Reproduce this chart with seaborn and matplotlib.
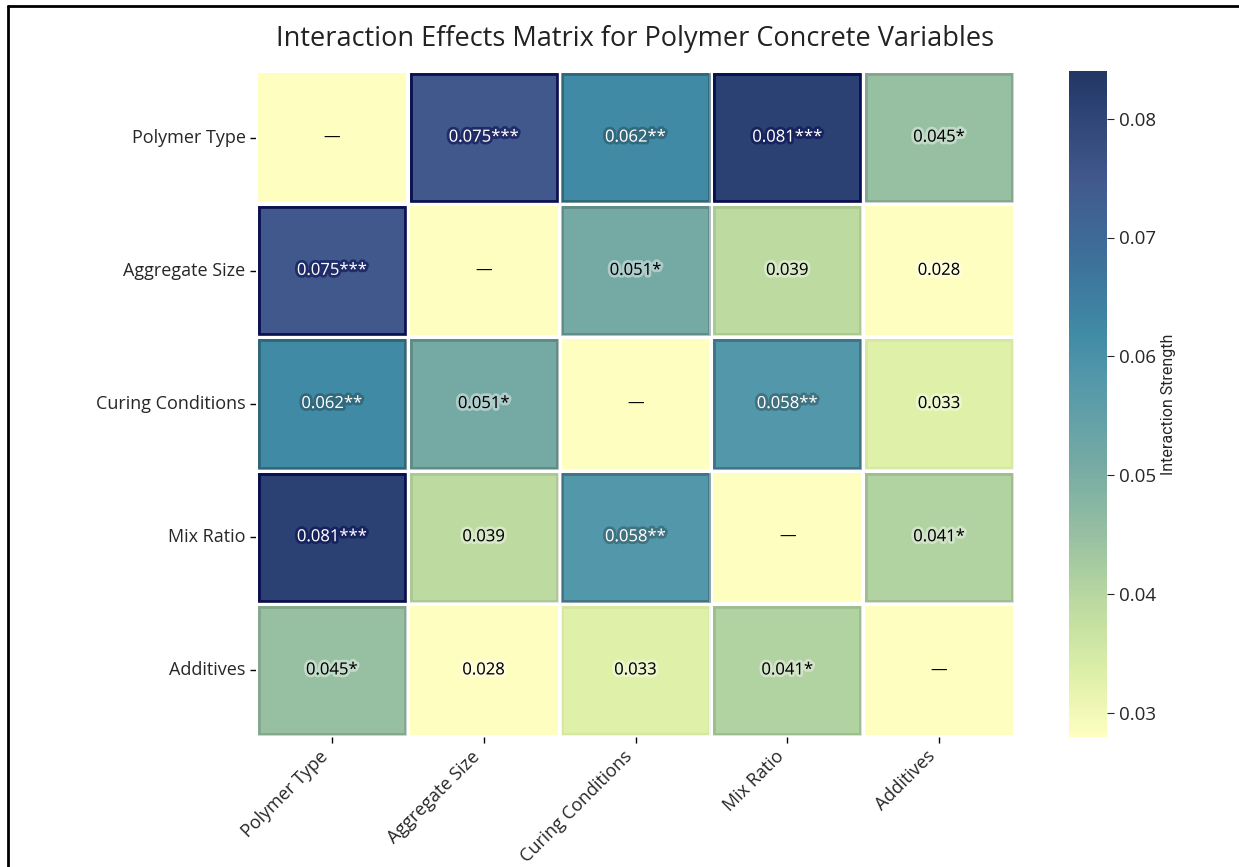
import numpy as np
import pandas as pd
import matplotlib
matplotlib.use("Agg")
import matplotlib.pyplot as plt
import matplotlib.patheffects as pe
from matplotlib.patches import Rectangle
from matplotlib.lines import Line2D
from matplotlib.colors import LinearSegmentedColormap
import seaborn as sns

variables = ["Polymer Type", "Aggregate Size", "Curing Conditions", "Mix Ratio", "Additives"]

# upper triangle (row, col, value, stars); matrix is symmetric
pairs = [
    ("Polymer Type", "Aggregate Size", 0.075, "***"),
    ("Polymer Type", "Curing Conditions", 0.062, "**"),
    ("Polymer Type", "Mix Ratio", 0.081, "***"),
    ("Polymer Type", "Additives", 0.045, "*"),
    ("Aggregate Size", "Curing Conditions", 0.051, "*"),
    ("Aggregate Size", "Mix Ratio", 0.039, ""),
    ("Aggregate Size", "Additives", 0.028, ""),
    ("Curing Conditions", "Mix Ratio", 0.058, "**"),
    ("Curing Conditions", "Additives", 0.033, ""),
    ("Mix Ratio", "Additives", 0.041, "*"),
]

vmin, vmax = 0.028, 0.084

# muted YlGnBu look of the reference
cmap = LinearSegmentedColormap.from_list("muted_ylgnbu", [
    (0.00, "#fefec0"), (0.09, "#def0a8"), (0.20, "#bcdaa0"), (0.30, "#98c0a2"),
    (0.41, "#75aaa4"), (0.54, "#5297aa"), (0.61, "#408aa5"), (0.72, "#3d709a"),
    (0.84, "#41588c"), (0.95, "#2c4173"), (1.00, "#223763"),
])

n = len(variables)
vals = pd.DataFrame(vmin, index=variables, columns=variables)
labels = pd.DataFrame("\u2014", index=variables, columns=variables)
for a, b, v, s in pairs:
    vals.loc[a, b] = vals.loc[b, a] = v
    labels.loc[a, b] = labels.loc[b, a] = f"{v:.3f}{s}"
diag = np.eye(n, dtype=bool)

sns.set_style("white")
plt.rcParams["font.family"] = ["Open Sans", "DejaVu Sans"]

fig = plt.figure(figsize=(12.39, 8.67), dpi=100)
ax = fig.add_axes([256 / 1239, 1 - 737 / 867, 759 / 1239, 666 / 867])
cax = fig.add_axes([1069 / 1239, 1 - 737 / 867, 38 / 1239, 666 / 867])

sns.heatmap(vals, ax=ax, cbar_ax=cax, cmap=cmap, vmin=vmin, vmax=vmax,
            linewidths=1.5, linecolor="white", annot=False,
            cbar_kws={"label": "Interaction Strength"})

norm = plt.Normalize(vmin, vmax)
for i in range(n):
    for j in range(n):
        v = vals.iloc[i, j]
        t = norm(v)
        rgb = np.array(cmap(t)[:3])
        if not diag[i, j]:
            # inner glow at the cell edge
            if t > 0.75:
                edge = "#050a4a"
            else:
                edge = rgb * 0.6
            ax.add_patch(Rectangle((j + 0.018, i + 0.022), 0.964, 0.956, fill=False,
                                   edgecolor=edge, lw=2.0, alpha=min(0.9, t * 1.1)))
        light = v >= 0.055 and not diag[i, j]
        color = "white" if light else "black"
        if light:
            glow = "#0a1050" if t > 0.75 else rgb * 0.6
        else:
            glow = rgb * 0.3 + 0.7
        txt = ax.text(j + 0.5, i + 0.5, labels.iloc[i, j], ha="center", va="center",
                      fontsize=12, color=color)
        if not diag[i, j]:
            txt.set_path_effects([pe.Stroke(linewidth=4, foreground=glow, alpha=0.6),
                                  pe.Normal()])

ax.set_title("Interaction Effects Matrix for Polymer Concrete Variables",
             fontsize=19.5, pad=18, color="#222222")
ax.set_xlabel("")
ax.set_ylabel("")
ax.tick_params(axis="both", which="both", length=4, width=1, color="black",
               labelsize=13, bottom=True, left=True)
plt.setp(ax.get_xticklabels(), rotation=45, ha="right")
plt.setp(ax.get_yticklabels(), rotation=0)

cax.tick_params(labelsize=13.5, length=5)
cax.yaxis.label.set_fontsize(11.5)
cax.yaxis.label.set_family(["Liberation Sans Narrow", "Roboto", "DejaVu Sans"])
for sp in cax.spines.values():
    sp.set_visible(False)

# frame lines seen at the left and top of the picture
fig.add_artist(Line2D([8 / 1239, 8 / 1239], [0, 1 - 6 / 867], transform=fig.transFigure,
                      color="black", lw=2))
fig.add_artist(Line2D([8 / 1239, 1.02], [1 - 6 / 867, 1 - 6 / 867], transform=fig.transFigure,
                      color="black", lw=2))

fig.savefig("out.png", dpi=100)
